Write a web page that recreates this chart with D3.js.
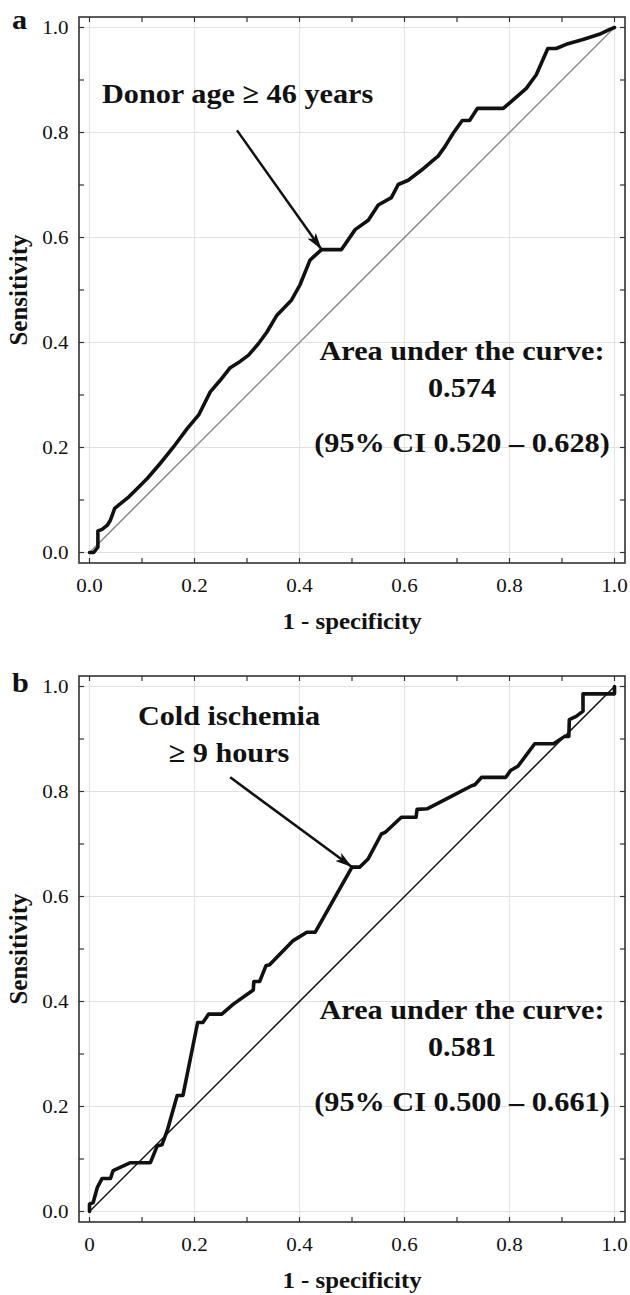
<!DOCTYPE html>
<html>
<head>
<meta charset="utf-8">
<script src="https://cdn.jsdelivr.net/npm/d3@7/dist/d3.min.js"></script>
<style>
  html, body { margin: 0; padding: 0; background: #fff; }
  svg { display: block; }
  text { font-family: "Liberation Serif", "Times New Roman", serif; fill: #111; }
</style>
</head>
<body>
<svg id="chart" width="630" height="1295"></svg>
<script>
// ROC curve for donor age (panel a)
const ageFpr = [0, 0.008, 0.016, 0.016, 0.024, 0.034, 0.040, 0.048, 0.059, 0.075, 0.091, 0.110, 0.135, 0.160, 0.186, 0.208, 0.230, 0.249, 0.268, 0.287, 0.303, 0.322, 0.338, 0.357, 0.385, 0.401, 0.420, 0.442, 0.480, 0.506, 0.531, 0.550, 0.575, 0.588, 0.607, 0.632, 0.652, 0.664, 0.677, 0.693, 0.710, 0.724, 0.739, 0.788, 0.807, 0.832, 0.851, 0.873, 0.889, 0.908, 0.940, 0.971, 0.990, 1.0];
const ageTpr = [0, 0, 0.010, 0.041, 0.044, 0.052, 0.062, 0.084, 0.093, 0.106, 0.122, 0.141, 0.170, 0.201, 0.236, 0.262, 0.306, 0.328, 0.352, 0.364, 0.376, 0.398, 0.420, 0.452, 0.481, 0.510, 0.557, 0.577, 0.577, 0.615, 0.633, 0.662, 0.676, 0.701, 0.709, 0.728, 0.745, 0.755, 0.773, 0.799, 0.823, 0.823, 0.846, 0.846, 0.862, 0.884, 0.910, 0.960, 0.960, 0.968, 0.977, 0.987, 0.996, 1.0];

// ROC curve for cold ischemia time (panel b)
const coldFpr = [0, 0, 0.007, 0.015, 0.024, 0.040, 0.045, 0.078, 0.116, 0.129, 0.138, 0.148, 0.167, 0.178, 0.206, 0.216, 0.227, 0.252, 0.274, 0.312, 0.313, 0.324, 0.336, 0.343, 0.388, 0.414, 0.430, 0.500, 0.515, 0.531, 0.556, 0.563, 0.594, 0.622, 0.624, 0.643, 0.680, 0.728, 0.734, 0.747, 0.793, 0.802, 0.816, 0.848, 0.884, 0.905, 0.913, 0.914, 0.927, 0.940, 0.940, 1.0, 1.0];
const coldTpr = [0, 0.014, 0.017, 0.046, 0.063, 0.063, 0.078, 0.093, 0.093, 0.125, 0.127, 0.154, 0.221, 0.221, 0.360, 0.360, 0.376, 0.376, 0.395, 0.422, 0.438, 0.438, 0.468, 0.470, 0.516, 0.532, 0.532, 0.656, 0.656, 0.672, 0.719, 0.722, 0.751, 0.751, 0.766, 0.767, 0.786, 0.811, 0.813, 0.827, 0.827, 0.840, 0.848, 0.891, 0.891, 0.905, 0.905, 0.937, 0.943, 0.953, 0.986, 0.986, 1.0];

const tickValues = [0, 0.2, 0.4, 0.6, 0.8, 1.0];
const minorTickValues = [0, 0.1, 0.2, 0.3, 0.4, 0.5, 0.6, 0.7, 0.8, 0.9, 1.0];
const xTickLabelsA = ["0.0", "0.2", "0.4", "0.6", "0.8", "1.0"];
const xTickLabelsB = ["0", "0.2", "0.4", "0.6", "0.8", "1.0"];
const yTickLabels = ["0.0", "0.2", "0.4", "0.6", "0.8", "1.0"];

const panels = [
  {
    letter: "a", top: 17, fpr: ageFpr, tpr: ageTpr, xLabels: xTickLabelsA,
    diagColor: "#8a8a8a",
    note: ["Donor age \u2265 46 years"], noteX: 102, noteAnchor: "start", noteY: [103],
    arrowFrom: [0.281, 0.804], arrowTo: [0.442, 0.577],
    auc: "0.574", ci: "(95% CI 0.520 \u2013 0.628)"
  },
  {
    letter: "b", top: 676, fpr: coldFpr, tpr: coldTpr, xLabels: xTickLabelsB,
    diagColor: "#111",
    note: ["Cold ischemia", "\u2265 9 hours"], noteX: 229, noteAnchor: "middle", noteY: [725, 762],
    arrowFrom: [0.268, 0.827], arrowTo: [0.500, 0.656],
    auc: "0.581", ci: "(95% CI 0.500 \u2013 0.661)"
  }
];

const svg = d3.select("#chart");
const stretch = 1.08;

svg.append("defs").append("marker")
  .attr("id", "head")
  .attr("viewBox", "0 0 17 10")
  .attr("refX", 17).attr("refY", 5)
  .attr("markerUnits", "userSpaceOnUse")
  .attr("markerWidth", 17).attr("markerHeight", 10)
  .attr("orient", "auto")
  .append("path")
  .attr("d", "M0,0 L17,5 L0,10 L4,5 Z")
  .attr("fill", "#111");

function label(g, str, x, y, opts) {
  return g.append("text")
    .attr("transform", `translate(${x},${y}) scale(${opts.sx || stretch},1)`)
    .attr("text-anchor", opts.anchor || "middle")
    .attr("font-size", opts.size)
    .attr("font-weight", opts.bold ? "bold" : "normal")
    .text(str);
}

panels.forEach(p => {
  const g = svg.append("g");
  const pad = 10.5;
  const left = 79, right = 625;
  const top = p.top, bottom = p.top + 546;
  const x = d3.scaleLinear().domain([0, 1]).range([left + pad, right - pad]);
  const y = d3.scaleLinear().domain([0, 1]).range([bottom - pad, top + pad]);

  // grid
  g.append("g").selectAll("line.gx").data(tickValues).join("line")
    .attr("x1", d => x(d)).attr("x2", d => x(d))
    .attr("y1", top).attr("y2", bottom)
    .attr("stroke", "#e2e2e2").attr("stroke-width", 1);
  g.append("g").selectAll("line.gy").data(tickValues).join("line")
    .attr("y1", d => y(d)).attr("y2", d => y(d))
    .attr("x1", left).attr("x2", right)
    .attr("stroke", "#e2e2e2").attr("stroke-width", 1);

  // inward ticks on all four sides of the frame
  const tl = 5;
  const ticks = g.append("g").attr("stroke", "#333").attr("stroke-width", 1.2);
  minorTickValues.forEach(v => {
    ticks.append("line").attr("x1", x(v)).attr("x2", x(v)).attr("y1", bottom).attr("y2", bottom - tl);
    ticks.append("line").attr("x1", x(v)).attr("x2", x(v)).attr("y1", top).attr("y2", top + tl);
    ticks.append("line").attr("y1", y(v)).attr("y2", y(v)).attr("x1", left).attr("x2", left + tl);
    ticks.append("line").attr("y1", y(v)).attr("y2", y(v)).attr("x1", right).attr("x2", right - tl);
  });

  // frame
  g.append("rect")
    .attr("x", left).attr("y", top)
    .attr("width", right - left).attr("height", bottom - top)
    .attr("fill", "none").attr("stroke", "#333").attr("stroke-width", 1.6);

  // tick labels
  tickValues.forEach((v, i) => {
    label(g, p.xLabels[i], x(v), bottom + 29, { size: 19.5 });
    label(g, yTickLabels[i], 68.5, y(v) + 6.5, { size: 19.5, anchor: "end" });
  });

  // axis titles
  label(g, "1 - specificity", (x(0) + x(1)) / 2, bottom + 65.5, { size: 23, bold: true });
  g.append("text")
    .attr("transform", `translate(26.5,${(y(0) + y(1)) / 2}) rotate(-90)`)
    .attr("text-anchor", "middle")
    .attr("font-size", 25).attr("font-weight", "bold")
    .text("Sensitivity");

  // panel letter
  label(g, p.letter, 12, p.letter === "a" ? 28.5 : 691.5, { size: 28, bold: true, anchor: "start" });

  // reference diagonal
  g.append("line")
    .attr("x1", x(0)).attr("y1", y(0)).attr("x2", x(1)).attr("y2", y(1))
    .attr("stroke", p.diagColor).attr("stroke-width", 1.5);

  // ROC curve
  const pts = p.fpr.map((f, i) => [f, p.tpr[i]]);
  g.append("path")
    .datum(pts)
    .attr("d", d3.line().x(d => x(d[0])).y(d => y(d[1])))
    .attr("fill", "none").attr("stroke", "#111")
    .attr("stroke-width", 3.6).attr("stroke-linejoin", "round").attr("stroke-linecap", "round");

  // cut-off annotation
  p.note.forEach((t, i) => {
    label(g, t, p.noteX, p.noteY[i], { size: 28, bold: true, anchor: p.noteAnchor });
  });
  g.append("line")
    .attr("x1", x(p.arrowFrom[0])).attr("y1", y(p.arrowFrom[1]))
    .attr("x2", x(p.arrowTo[0])).attr("y2", y(p.arrowTo[1]))
    .attr("stroke", "#111").attr("stroke-width", 2.5)
    .attr("marker-end", "url(#head)");

  // area under the curve
  const cx = 462;
  const base = p.top;
  label(g, "Area under the curve:", cx, base + 343, { size: 28, bold: true });
  label(g, p.auc, cx, base + 380, { size: 28, bold: true });
  label(g, p.ci, cx, base + 435, { size: 28, bold: true });
});
</script>
</body>
</html>
